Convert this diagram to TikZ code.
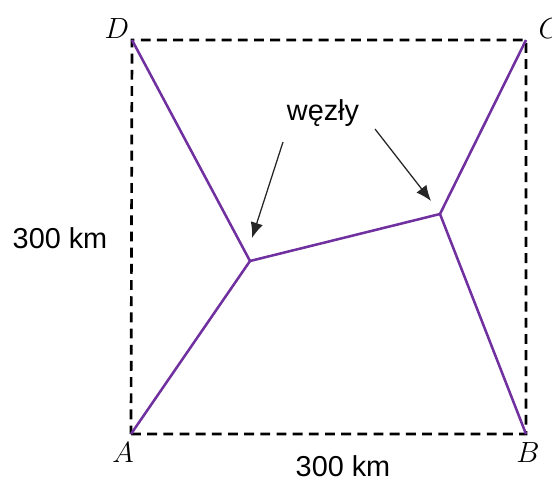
\documentclass[tikz,border=0pt]{standalone}
\usepackage{fontspec}
\setsansfont{Liberation Sans}
\usetikzlibrary{arrows.meta}
\definecolor{linepurple}{HTML}{7030A0}

\begin{document}
\begin{tikzpicture}[
    x=0.025cm, y=-0.025cm,
    bound/.style={dashed, line width=1.9pt, dash pattern=on 7pt off 4.5pt},
    road/.style={linepurple, line width=1.8pt},
    pointer/.style={-{Latex[length=11pt,width=9pt]}, line width=0.9pt, black!85},
    lbl/.style={font=\fontsize{20.5}{24}\selectfont\sffamily, inner sep=0pt},
    corner/.style={font=\fontsize{20.5}{24}\selectfont, inner sep=0pt}
]
    \useasboundingbox (0,0) rectangle (552,480);

    \coordinate (A) at (131,434);
    \coordinate (B) at (526,434);
    \coordinate (C) at (526,40);
    \coordinate (D) at (132,40);
    \coordinate (n1) at (250,261);
    \coordinate (n2) at (440,214);

    % square
    \draw[bound] (A) -- (B) -- (C) -- (D) -- cycle;

    % roads
    \draw[road] (A) -- (n1) -- (D);
    \draw[road] (n1) -- (n2);
    \draw[road] (B) -- (n2) -- (C);

    % corner letters
    \node[corner] (lA) at (123,453) {$A$};
    \node[corner] (lB) at (528,453) {$B$};
    \node[corner] (lC) at (550,29) {$C$};
    \node[corner] (lD) at (117,29) {$D$};

    % lengths
    \node[lbl] (side) at (60,238) {300 km};
    \node[lbl] (base) at (343,466) {300 km};

    % nodes label
    \node[lbl] (wezly) at (323,113) {węzły};
    \coordinate (p1) at (283,142);
    \coordinate (t1) at (252,238);
    \coordinate (p2) at (375,129);
    \coordinate (t2) at (431,201);
    \draw[pointer] (p1) -- (t1);
    \draw[pointer] (p2) -- (t2);
\end{tikzpicture}
\end{document}
